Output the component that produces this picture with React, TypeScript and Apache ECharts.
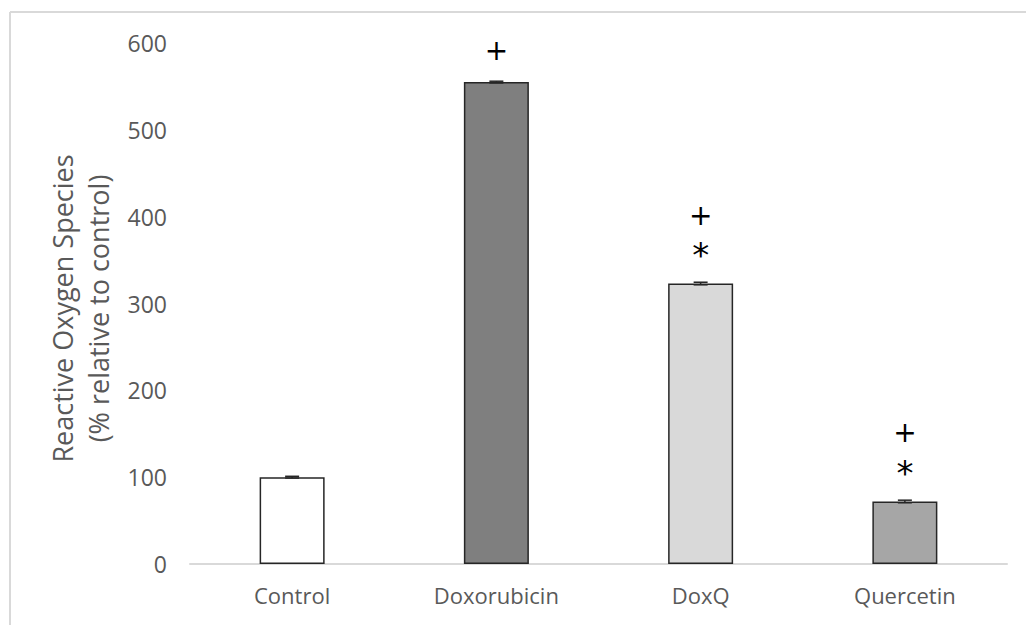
import React, { useEffect, useRef } from "react";
import * as echarts from "echarts";

const categories = ["Control", "Doxorubicin", "DoxQ", "Quercetin"];
const values = [100, 555, 323, 72];
const errors = [1, 1, 1.5, 1.5];
const annotations = ["", "{p|+}", "{p|+}\n{s|*}", "{p|+}\n{s|*}"];
const barColors = ["#ffffff", "#7f7f7f", "#d9d9d9", "#a6a6a6"];
const yTicks = [0, 100, 200, 300, 400, 500, 600];

export default function App() {
  const ref = useRef<HTMLDivElement>(null);
  useEffect(() => {
    document.body.style.margin = "0";
    const chart = echarts.init(ref.current!, null, { renderer: "svg" });
    const font = "'Open Sans', sans-serif";
    chart.setOption({
      animation: false,
      backgroundColor: "#ffffff",
      graphic: [
        { type: "line", shape: { x1: 10, y1: 12, x2: 1026, y2: 12 }, style: { stroke: "#d9d9d9", lineWidth: 2 } },
        { type: "line", shape: { x1: 10, y1: 12, x2: 10, y2: 625 }, style: { stroke: "#d9d9d9", lineWidth: 2 } },
      ],
      grid: { left: 190, right: 19, top: 43, bottom: 61, containLabel: false },
      xAxis: {
        type: "category",
        data: categories,
        axisLine: { lineStyle: { color: "#d9d9d9", width: 2 } },
        axisTick: { show: false },
        axisLabel: { color: "#595959", fontSize: 22, fontFamily: font, margin: 20 },
      },
      yAxis: {
        type: "value",
        min: yTicks[0],
        max: yTicks[yTicks.length - 1],
        interval: 100,
        splitLine: { show: false },
        axisLine: { show: false },
        axisTick: { show: false },
        axisLabel: { color: "#595959", fontSize: 23, fontFamily: font, margin: 23 },
        name: "Reactive Oxygen Species\n(% relative to control)",
        nameLocation: "middle",
        nameRotate: 90,
        nameGap: 73,
        nameTextStyle: { color: "#595959", fontSize: 27, fontFamily: font, lineHeight: 36, padding: [0, 10, 0, 0] },
      },
      series: [
        {
          type: "bar",
          barWidth: 65,
          data: values.map((v, i) => ({
            value: v,
            itemStyle: { color: barColors[i], borderColor: "#262626", borderWidth: 1.5 },
            label: {
              show: annotations[i] !== "",
              position: "top",
              distance: 13,
              formatter: annotations[i],
              color: "#000000",
              fontFamily: "'DejaVu Sans', sans-serif",
              rich: {
                p: { fontSize: 28, lineHeight: 37, color: "#000000", fontFamily: "'DejaVu Sans', sans-serif" },
                s: { fontSize: 34, lineHeight: 37, color: "#000000", fontFamily: "'DejaVu Sans', sans-serif", padding: [6, 0, 0, 0] },
              },
            },
          })),
        },
        {
          type: "custom",
          data: values.map((v, i) => [i, v, errors[i]]),
          renderItem: (params: any, api: any) => {
            const x = api.value(0);
            const v = api.value(1);
            const e = api.value(2);
            const top = api.coord([x, v + e]);
            const bot = api.coord([x, v - e]);
            const half = 7;
            return {
              type: "group",
              children: [
                { type: "line", shape: { x1: top[0], y1: top[1], x2: bot[0], y2: bot[1] }, style: { stroke: "#262626", lineWidth: 1.5 } },
                { type: "line", shape: { x1: top[0] - half, y1: top[1], x2: top[0] + half, y2: top[1] }, style: { stroke: "#262626", lineWidth: 1.5 } },
                { type: "line", shape: { x1: bot[0] - half, y1: bot[1], x2: bot[0] + half, y2: bot[1] }, style: { stroke: "#262626", lineWidth: 1.5 } },
              ],
            };
          },
          z: 10,
        },
      ],
    });
    return () => chart.dispose();
  }, []);
  return <div ref={ref} style={{ width: 1026, height: 625, position: "fixed", left: 0, top: 0 }} />;
}
